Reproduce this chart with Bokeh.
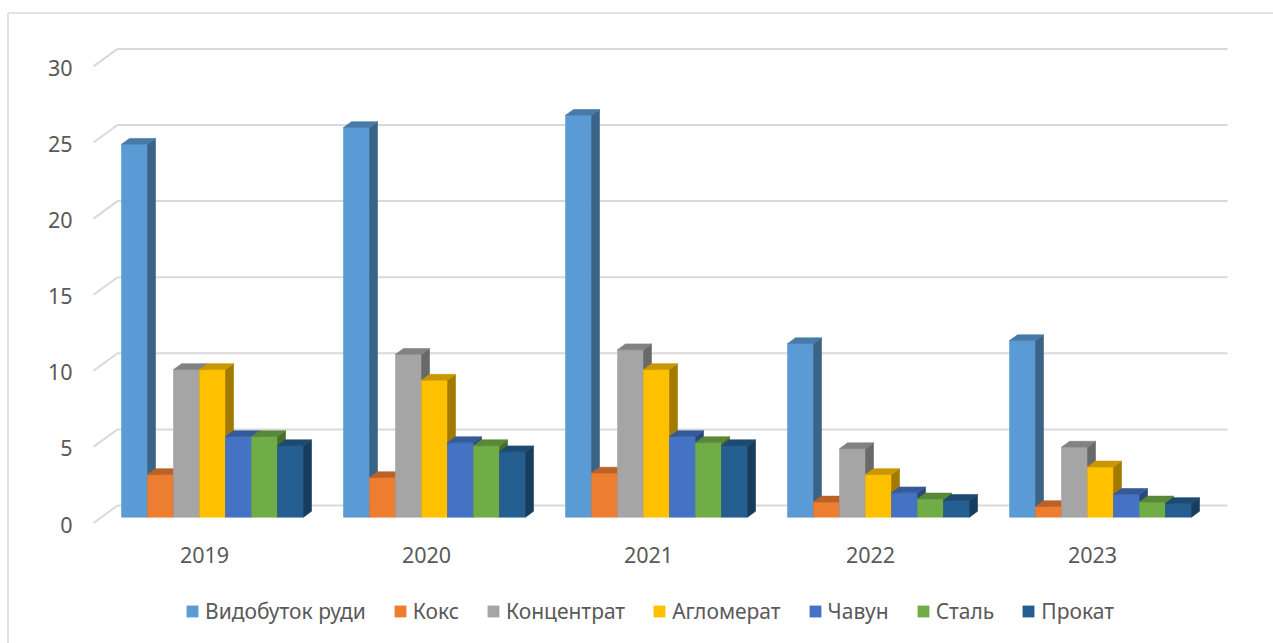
from bokeh.plotting import figure
from bokeh.models import Range1d, Legend, LegendItem
from bokeh.embed import file_html
from bokeh.resources import INLINE
from bokeh.core.properties import value

# ---- data -------------------------------------------------------------
years = ["2019", "2020", "2021", "2022", "2023"]
series_names = ["Видобуток руди", "Кокс", "Концентрат", "Агломерат",
                "Чавун", "Сталь", "Прокат"]
ore = [24.5, 25.6, 26.4, 11.4, 11.6]
coke = [2.8, 2.6, 2.9, 1.0, 0.7]
concentrate = [9.7, 10.7, 11.0, 4.5, 4.6]
agglomerate = [9.7, 9.0, 9.7, 2.8, 3.3]
pig_iron = [5.3, 4.9, 5.3, 1.6, 1.5]
steel = [5.3, 4.7, 4.9, 1.2, 1.0]
rolled = [4.7, 4.3, 4.7, 1.1, 0.9]
y_ticks = [0, 5, 10, 15, 20, 25, 30]

series_values = [ore, coke, concentrate, agglomerate, pig_iron, steel, rolled]
colors = ["#5B9BD5", "#ED7D31", "#A5A5A5", "#FFC000",
          "#4472C4", "#70AD47", "#255E91"]

# ---- layout of the pseudo-3D box (screen pixels) ----------------------
W, H = 1273, 643
ORIGIN_X, ORIGIN_Y = 93.0, 522.5      # front-left corner of the floor
PX_PER_CAT = 222.0                    # width of one category slot
PX_PER_UNIT = 15.22                   # pixels per value unit
DEPTH_PX = (24.0, 17.5)               # full depth of the box (right, up)
BAR_PX = 26.0                         # bar width

# data units: x in category slots, y in value units on the front plane
DX = DEPTH_PX[0] / PX_PER_CAT
DY = DEPTH_PX[1] / PX_PER_UNIT
BAR_W = BAR_PX / PX_PER_CAT
N_CAT = len(years)
N_SER = len(series_values)


def sx(px):
    return (px - ORIGIN_X) / PX_PER_CAT


def sy(py):
    return (ORIGIN_Y - py) / PX_PER_UNIT


def shade(hex_color, k):
    h = hex_color.lstrip("#")
    r, g, b = (int(h[i:i + 2], 16) for i in (0, 2, 4))
    return "#%02X%02X%02X" % (int(r * k), int(g * k), int(b * k))


p = figure(width=W, height=H, output_backend="svg", toolbar_location=None,
           x_range=Range1d(sx(0), sx(W)), y_range=Range1d(sy(H), sy(0)),
           min_border=0, x_axis_location=None, y_axis_location=None)
p.grid.visible = False
p.outline_line_color = None
p.background_fill_color = "white"
p.border_fill_color = "white"

# chart border (left and top edges)
p.line([sx(7.5), sx(7.5)], [sy(H), sy(12.5)], line_color="#D9D9D9", line_width=1.5)
p.line([sx(7.5), sx(W)], [sy(12.5), sy(12.5)], line_color="#D9D9D9", line_width=1.5)

# gridlines: back wall plus the receding segments on the side wall
grid_color = "#D9D9D9"
p.multi_line(
    xs=[[DX, N_CAT + DX] for _ in y_ticks],
    ys=[[t + DY, t + DY] for t in y_ticks],
    line_color=grid_color, line_width=2)
p.multi_line(
    xs=[[0, DX] for _ in y_ticks],
    ys=[[t, t + DY] for t in y_ticks],
    line_color=grid_color, line_width=2)

# value labels on the left
p.text(x=[sx(72)] * len(y_ticks), y=[t - 1.5 / PX_PER_UNIT for t in y_ticks],
       text=[str(t) for t in y_ticks], text_align="right", text_baseline="middle",
       text_font=value("Noto Sans"), text_font_size="21.5px", text_color="#595959")

# category labels along the front edge of the floor
p.text(x=[c + 0.5 for c in range(N_CAT)], y=[sy(554)] * N_CAT, text=years,
       text_align="center", text_baseline="middle",
       text_font=value("Noto Sans"), text_font_size="21.5px", text_color="#595959")

# bars: front, right side and top faces, drawn left to right
fx, fy = DX / 3, DY / 3          # bars sit in the middle third of the depth
bx, by = DX / 3, DY / 3          # bar depth
front_renderers = []
for s, vals in enumerate(series_values):
    fr_x, fr_y, sd_x, sd_y, tp_x, tp_y = [], [], [], [], [], []
    for c, v in enumerate(vals):
        x0 = c + 0.5 - N_SER * BAR_W / 2 + s * BAR_W + fx
        x1 = x0 + BAR_W
        y0 = fy
        y1 = v + fy
        fr_x.append([x0, x1, x1, x0])
        fr_y.append([y0, y0, y1, y1])
        sd_x.append([x1, x1 + bx, x1 + bx, x1])
        sd_y.append([y0, y0 + by, y1 + by, y1])
        tp_x.append([x0, x1, x1 + bx, x0 + bx])
        tp_y.append([y1, y1, y1 + by, y1 + by])
    col = colors[s]
    r = p.patches(fr_x, fr_y, fill_color=col, line_color=col, line_width=0.6)
    p.patches(sd_x, sd_y, fill_color=shade(col, 0.64), line_color=shade(col, 0.64),
              line_width=0.6)
    p.patches(tp_x, tp_y, fill_color=shade(col, 0.79), line_color=shade(col, 0.79),
              line_width=0.6)
    front_renderers.append(r)

legend = Legend(
    items=[LegendItem(label=n, renderers=[r]) for n, r in zip(series_names, front_renderers)],
    orientation="horizontal", location=(185, 18),
    glyph_width=14, glyph_height=14, label_standoff=6, spacing=27,
    padding=0, margin=0, border_line_color=None, background_fill_alpha=0,
    label_text_font="Noto Sans", label_text_font_size="21px",
    label_text_color="#595959")
p.add_layout(legend)

open("out.html", "w").write(file_html(p, INLINE))
